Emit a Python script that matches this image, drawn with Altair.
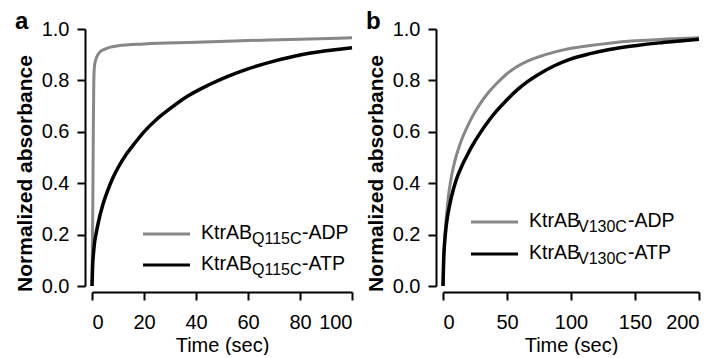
import altair as alt
import pandas as pd

# ---------------- data ----------------
# Panel a: KtrAB Q115C
a_adp_t = [0, 0.3, 0.5, 0.7, 1, 2, 3, 5, 10, 20, 40, 60, 80, 100]
a_adp_v = [0, 0.30, 0.60, 0.80, 0.86, 0.895, 0.91, 0.922, 0.935, 0.942, 0.948, 0.955, 0.960, 0.966]
a_atp_t = [0, 0.25, 0.6, 1, 1.5, 2.5, 4, 6, 8, 10, 13, 16, 20, 25, 30, 37, 45, 52, 60, 70, 80, 90, 100]
a_atp_v = [0, 0.08, 0.13, 0.17, 0.20, 0.25, 0.31, 0.37, 0.42, 0.46, 0.51, 0.55, 0.60, 0.65, 0.69,
           0.74, 0.783, 0.815, 0.845, 0.875, 0.899, 0.915, 0.927]

# Panel b: KtrAB V130C
b_adp_t = [0, 0.5, 1, 2, 3, 4.5, 6, 8, 10, 12.5, 15, 18.3, 23, 28.7, 35, 41.7, 50, 57.3, 66, 75.5,
           87, 99, 115, 130, 150, 175, 200]
b_adp_v = [0, 0.09, 0.15, 0.23, 0.29, 0.36, 0.41, 0.46, 0.50, 0.54, 0.575, 0.612, 0.66, 0.707, 0.75,
           0.787, 0.826, 0.852, 0.875, 0.893, 0.91, 0.924, 0.936, 0.945, 0.954, 0.961, 0.966]
b_atp_t = [0, 0.5, 1, 2, 3.5, 5, 7, 9.5, 12, 15, 18.3, 23, 28.7, 35, 41.7, 50, 57.3, 66, 75.5, 87,
           99, 115, 130, 150, 169, 185, 200]
b_atp_v = [0, 0.10, 0.15, 0.21, 0.27, 0.31, 0.355, 0.40, 0.435, 0.47, 0.503, 0.547, 0.593, 0.638,
           0.68, 0.725, 0.76, 0.795, 0.826, 0.857, 0.882, 0.904, 0.92, 0.935, 0.946, 0.953, 0.96]

a_xticks = [0, 20, 40, 60, 80, 100]
b_xticks = [0, 50, 100, 150, 200]
yticks = [0, 0.2, 0.4, 0.6, 0.8, 1.0]

a_legend = [("KtrAB", "Q115C", "-ADP"), ("KtrAB", "Q115C", "-ATP")]
b_legend = [("KtrAB", "V130C", "-ADP"), ("KtrAB", "V130C", "-ATP")]

GRAY = "#878787"
BLACK = "#000000"
FONT = "Liberation Sans"


def panel(adp_t, adp_v, atp_t, atp_v, xmax, xticks, legend, letter, w, h, lay):
    adp = pd.DataFrame({"t": adp_t, "v": adp_v})
    atp = pd.DataFrame({"t": atp_t, "v": atp_v})
    X = alt.X("t:Q", scale=alt.Scale(domain=[0, xmax], nice=False),
              axis=alt.Axis(values=xticks, format="d", title="Time (sec)", offset=6,
                            tickSize=8, labelPadding=12, titlePadding=3,
                            titleFontSize=20, titleFontWeight="normal"))
    Y = alt.Y("v:Q", scale=alt.Scale(domain=[0, 1], nice=False),
              axis=alt.Axis(values=yticks, format=".1f", title="Normalized absorbance",
                            offset=7, tickSize=8, labelPadding=8, titlePadding=6,
                            titleY=144,
                            titleFontSize=21, titleFontWeight="bold"))
    l1 = alt.Chart(adp).mark_line(color=GRAY, strokeWidth=3, interpolate="monotone").encode(x=X, y=Y)
    l2 = alt.Chart(atp).mark_line(color=BLACK, strokeWidth=3.5, interpolate="monotone").encode(x=X, y=Y)
    one = pd.DataFrame({"k": [0]})
    layers = [l1, l2]
    for i, (main, sub, tail) in enumerate(legend):
        col = GRAY if i == 0 else BLACK
        ly = lay["rows"][i]
        layers.append(alt.Chart(one).mark_rule(color=col, strokeWidth=3).encode(
            x=alt.value(lay["lx"][0]), x2=alt.value(lay["lx"][1]), y=alt.value(ly - 5)))
        layers.append(alt.Chart(one).mark_text(text=main, font=FONT, fontSize=19.5, align="left",
                                               baseline="alphabetic", color="black").encode(
            x=alt.value(lay["tx"][0]), y=alt.value(ly)))
        layers.append(alt.Chart(one).mark_text(text=sub, font=FONT, fontSize=16, align="left",
                                               baseline="alphabetic", color="black").encode(
            x=alt.value(lay["tx"][1]), y=alt.value(ly + 5)))
        layers.append(alt.Chart(one).mark_text(text=tail, font=FONT, fontSize=19.5, align="left",
                                               baseline="alphabetic", color="black").encode(
            x=alt.value(lay["tx"][2]), y=alt.value(ly)))
    layers.append(alt.Chart(one).mark_text(text=letter, font=FONT, fontSize=24, fontWeight="bold",
                                           align="left", baseline="alphabetic", color="black").encode(
        x=alt.value(-77), y=alt.value(0)))
    return alt.layer(*layers).properties(width=w, height=h)


pa = panel(a_adp_t, a_adp_v, a_atp_t, a_atp_v, 100, a_xticks, a_legend, "a", 260, 257,
           {"lx": (51, 98), "tx": (109, 160, 210), "rows": (210, 241)})
pb = panel(b_adp_t, b_adp_v, b_atp_t, b_atp_v, 200, b_xticks, b_legend, "b", 256, 257,
           {"lx": (28, 75), "tx": (86, 135, 185), "rows": (198, 230)})

chart = alt.hconcat(pa, pb, spacing=91, bounds="flush").properties(
    padding={"left": 6, "top": 2, "right": 0, "bottom": 0}
).configure_view(stroke=None).configure_axis(
    domainColor="black", domainWidth=2, tickColor="black", tickWidth=2,
    labelColor="black", titleColor="black", labelFont=FONT, titleFont=FONT,
    labelFontSize=20, grid=False
)

chart.save("out.html", embed_options={"renderer": "svg", "actions": False})
